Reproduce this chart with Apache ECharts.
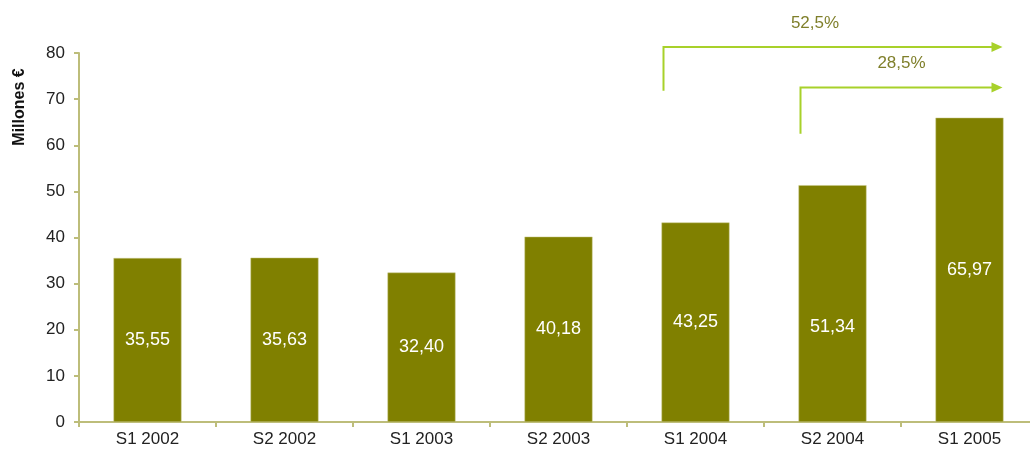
<!DOCTYPE html>
<html>
<head>
<meta charset="utf-8">
<script src="https://cdn.jsdelivr.net/npm/echarts@6/dist/echarts.min.js"></script>
<style>
  html, body { margin: 0; padding: 0; background: #fff; overflow: hidden; }
  #chart { width: 1040px; height: 457px; }
</style>
</head>
<body>
<div id="chart"></div>
<script>
var categories = ['S1 2002', 'S2 2002', 'S1 2003', 'S2 2003', 'S1 2004', 'S2 2004', 'S1 2005'];
var values = [35.55, 35.63, 32.40, 40.18, 43.25, 51.34, 65.97];
var yTicks = [0, 10, 20, 30, 40, 50, 60, 70, 80];
// growth arrows: from category -> to category, label
var growthFrom = ['S1 2004', 'S2 2004'];
var growthTo = ['S1 2005', 'S1 2005'];
var growthLabels = ['52,5%', '28,5%'];

var olive = '#808000';
var axisColor = '#BDBD7A';
var arrowColor = '#A8D12A';

function fmt(v) { return v.toFixed(2).replace('.', ','); }

var chart = echarts.init(document.getElementById('chart'));

var barData = values.map(function (v, i) {
    var item = { value: v };
    if (i === 5) item.label = { offset: [0, 23] };
    return item;
});

chart.setOption({
    animation: false,
    grid: { left: 79, right: 2, top: 53, bottom: 35 },
    xAxis: {
        type: 'category',
        data: categories,
        axisLine: { lineStyle: { color: axisColor, width: 2 } },
        axisTick: { show: true, length: 5, lineStyle: { color: axisColor, width: 2 } },
        axisLabel: { color: '#222', fontSize: 17, fontFamily: 'Liberation Sans', margin: 9 }
    },
    yAxis: {
        type: 'value',
        min: yTicks[0],
        max: yTicks[yTicks.length - 1],
        interval: 10,
        axisLine: { show: true, lineStyle: { color: axisColor, width: 2 } },
        axisTick: { show: true, length: 5, lineStyle: { color: axisColor, width: 2 } },
        axisLabel: { color: '#222', fontSize: 17, fontFamily: 'Liberation Sans', margin: 14 },
        splitLine: { show: false }
    },
    series: [{
        type: 'bar',
        data: barData,
        barWidth: 68,
        itemStyle: { color: olive, borderColor: '#C8C88A', borderWidth: 0.5 },
        label: {
            show: true,
            position: 'inside',
            color: '#fff',
            fontSize: 18,
            fontFamily: 'Liberation Sans',
            formatter: function (p) { return fmt(p.value); }
        }
    }]
});

// growth arrows drawn in pixel space from the axis scales
var halfBar = 34;
var arrowRise = [81.3, 72.5];
var arrowBase = [71.8, 62.5];
var graphics = [{
    type: 'text',
    x: 20,
    y: 107,
    rotation: Math.PI / 2,
    style: {
        text: 'Millones €', fill: '#111', fontSize: 16, fontWeight: 'bold',
        fontFamily: 'Liberation Sans', align: 'center', verticalAlign: 'middle'
    }
}];
growthFrom.forEach(function (from, i) {
    var x0 = chart.convertToPixel({ xAxisIndex: 0 }, from) - halfBar + 2;
    var x1 = chart.convertToPixel({ xAxisIndex: 0 }, growthTo[i]) + halfBar - 1;
    var yTop = chart.convertToPixel({ yAxisIndex: 0 }, arrowRise[i]);
    var yBot = chart.convertToPixel({ yAxisIndex: 0 }, arrowBase[i]);
    graphics.push({
        type: 'polyline',
        shape: { points: [[x0, yBot], [x0, yTop], [x1 - 10, yTop]] },
        style: { stroke: arrowColor, lineWidth: 2, fill: null }
    });
    graphics.push({
        type: 'polygon',
        shape: { points: [[x1 - 11, yTop - 5], [x1, yTop], [x1 - 11, yTop + 5]] },
        style: { fill: arrowColor }
    });
    graphics.push({
        type: 'text',
        x: (x0 + x1) / 2 + (i === 0 ? -18 : 0),
        y: yTop - 24,
        style: {
            text: growthLabels[i], fill: '#7F7F2A', fontSize: 17,
            fontFamily: 'Liberation Sans', align: 'center', verticalAlign: 'middle'
        }
    });
});
chart.setOption({ graphic: graphics });
</script>
</body>
</html>
